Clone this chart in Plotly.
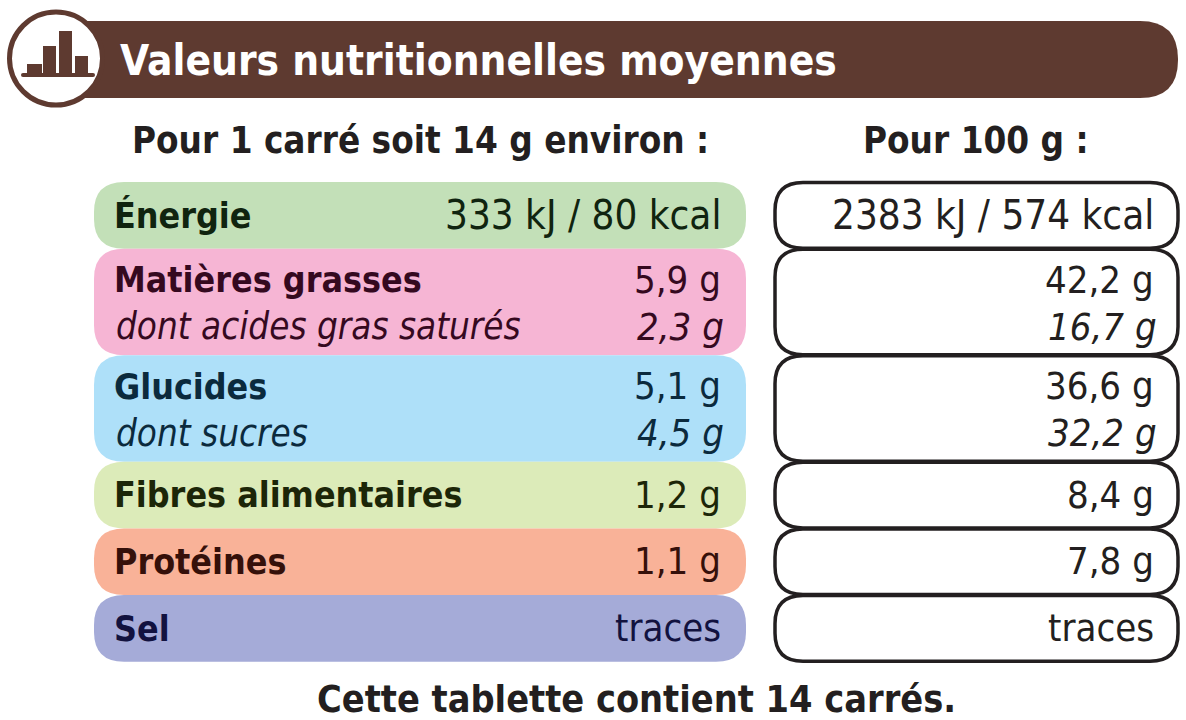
import plotly.graph_objects as go

# ==== DATA ====
title = "Valeurs nutritionnelles moyennes"
head_left = "Pour 1 carré soit 14 g environ :"
head_right = "Pour 100 g :"
footer = "Cette tablette contient 14 carrés."

nutrients = ["Énergie", "Matières grasses", "Glucides", "Fibres alimentaires", "Protéines", "Sel"]
sub_labels = [None, "dont acides gras saturés", "dont sucres", None, None, None]
per_portion = ["333 kJ / 80 kcal", "5,9 g", "5,1 g", "1,2 g", "1,1 g", "traces"]
sub_portion = [None, "2,3 g", "4,5 g", None, None, None]
per_100g = ["2383 kJ / 574 kcal", "42,2 g", "36,6 g", "8,4 g", "7,8 g", "traces"]
sub_100g = [None, "16,7 g", "32,2 g", None, None, None]

band_colors = ["#c3e0b8", "#f6b5d4", "#aee0f9", "#dcebb9", "#f9b298", "#a5abd8"]
text_colors = ["#10240f", "#35091f", "#0b2a3d", "#1c2608", "#35100a", "#12123f"]
icon_bars = [(27, 42, 64), (43, 56, 46), (59, 72, 31), (75, 88, 56)]

BROWN = "#5e3a30"
INK = "#231f20"
FONT = "DejaVu Sans Condensed, Liberation Sans, sans-serif"
SIZE = 38
BOLD_SIZE = 35.5


def rounded(x0, y0, x1, y1, r):
    return (f"M{x0+r},{y0} L{x1-r},{y0} Q{x1},{y0} {x1},{y0+r} L{x1},{y1-r} Q{x1},{y1} {x1-r},{y1} "
            f"L{x0+r},{y1} Q{x0},{y1} {x0},{y1-r} L{x0},{y0+r} Q{x0},{y0} {x0+r},{y0} Z")


fig = go.Figure()
shapes = []
notes = []


def text(x, y, s, color=INK, bold=False, italic=False, anchor="left", size=SIZE):
    notes.append(dict(x=x, y=y, text=s, showarrow=False, xanchor=anchor, yanchor="middle",
                      borderpad=0, borderwidth=0,
                      font=dict(family=FONT, size=size, color=color,
                                weight="bold" if bold else "normal",
                                style="italic" if italic else "normal")))


# ==== HEADER ====
shapes.append(dict(type="path", path=rounded(80, 21, 1178, 98, 38), fillcolor=BROWN, line_width=0))
shapes.append(dict(type="rect", x0=60, x1=200, y0=21, y1=98, fillcolor=BROWN, line_width=0))
shapes.append(dict(type="circle", x0=9.5, y0=12, x1=102.5, y1=105, fillcolor="white",
                   line=dict(color=BROWN, width=5)))
for x0, x1, top in icon_bars:
    shapes.append(dict(type="rect", x0=x0, x1=x1, y0=top, y1=74, fillcolor=BROWN, line_width=0))
shapes.append(dict(type="path", path=rounded(21, 73, 95, 77, 2), fillcolor=BROWN, line_width=0))
text(120, 60.5, title, color="white", bold=True, size=42)
text(420, 140.5, head_left, bold=True, anchor="center", size=36.5)
text(976, 140.5, head_right, bold=True, anchor="center", size=36.5)

# ==== ROWS ====
y = 182
for i, name in enumerate(nutrients):
    two = sub_labels[i] is not None
    h = 106.5 if two else 66.7
    y0, y1 = y, y + h
    shapes.append(dict(type="path", path=rounded(94, y0, 746, y1, 30), fillcolor=band_colors[i], line_width=0))
    shapes.append(dict(type="path", path=rounded(775, y0 + 0.5, 1178, y1 - 0.5, 28), fillcolor="white",
                       line=dict(color=INK, width=3.5)))
    yc = y0 + 33 if not two else y0 + 31
    value_size = 40 if "kcal" in per_100g[i] else SIZE
    text(114, yc, name, color=text_colors[i], bold=True, size=BOLD_SIZE)
    text(721, yc, per_portion[i], color=text_colors[i], anchor="right", size=value_size)
    text(1154, yc, per_100g[i], anchor="right", size=value_size)
    if two:
        text(116, yc + 47, sub_labels[i], color=text_colors[i], italic=True, size=36.5)
        text(724, yc + 47, sub_portion[i], color=text_colors[i], italic=True, anchor="right")
        text(1157, yc + 47, sub_100g[i], italic=True, anchor="right")
    y = y1

text(636, 699, footer, bold=True, anchor="center", size=37.5)

fig.update_layout(
    width=1186, height=720, margin=dict(l=0, r=0, t=0, b=0),
    paper_bgcolor="white", plot_bgcolor="white", showlegend=False,
    xaxis=dict(range=[0, 1186], visible=False, fixedrange=True),
    yaxis=dict(range=[720, 0], visible=False, fixedrange=True),
    shapes=shapes, annotations=notes,
)

fig.write_html("out.html", config=dict(displayModeBar=False),
               post_script="document.body.style.margin = '0';")
